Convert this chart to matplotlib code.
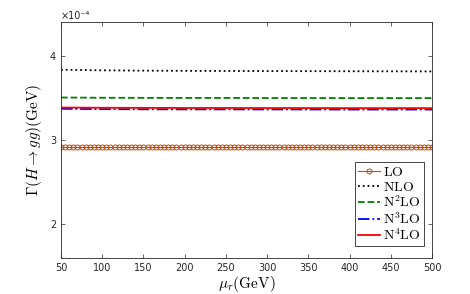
import numpy as np
import matplotlib
matplotlib.use("Agg")
import matplotlib.pyplot as plt

plt.rcParams['mathtext.fontset'] = 'cm'
plt.rcParams['font.family'] = ['DejaVu Sans']

# data (units of 1e-4 GeV)
mu_line = [50, 100, 150, 200, 250, 300, 350, 400, 450, 500]
nlo = [3.833, 3.826, 3.822, 3.820, 3.818, 3.817, 3.816, 3.815, 3.814, 3.813]
n2lo = [3.503, 3.500, 3.499, 3.498, 3.498, 3.497, 3.497, 3.496, 3.496, 3.496]
n3lo = [3.369, 3.365, 3.363, 3.362, 3.362, 3.361, 3.361, 3.360, 3.360, 3.360]
n4lo = [3.384, 3.381, 3.380, 3.379, 3.379, 3.378, 3.378, 3.377, 3.377, 3.377]
mu_lo = list(range(50, 501, 5))
lo = [2.913] * len(mu_lo)

scale = 1e-4
gray = (0.15, 0.15, 0.15)

fig = plt.figure(figsize=(4.7, 2.94), dpi=100)
ax = fig.add_axes([61/470, 1-257.7/294, (432-61)/470, (257.7-22)/294])

ax.plot(mu_lo, np.array(lo)*scale, '-o', color=(0.75, 0.3, 0.08), lw=0.8,
        markersize=3.6, markerfacecolor='none', markeredgewidth=0.7, label=r'$\mathrm{LO}$')
ax.plot(mu_line, np.array(nlo)*scale, ':', color='black', lw=1.3, label=r'$\mathrm{NLO}$')
ax.plot(mu_line, np.array(n2lo)*scale, '--', color=(0, 0.5, 0), lw=1.3, label=r'$\mathrm{N^2LO}$')
ax.plot(mu_line, np.array(n3lo)*scale, '-.', color='blue', lw=1.3, label=r'$\mathrm{N^3LO}$')
ax.plot(mu_line, np.array(n4lo)*scale, '-', color='red', lw=1.3, label=r'$\mathrm{N^4LO}$')

ax.set_xlim(50, 500)
ax.set_ylim(1.6e-4, 4.4e-4)
ax.set_xticks(range(50, 501, 50))
ax.set_yticks([2e-4, 3e-4, 4e-4])
ax.set_yticklabels(['2', '3', '4'])
ax.tick_params(direction='in', top=True, right=True, labelsize=7, colors=gray,
               length=3, width=0.5)
for s in ax.spines.values():
    s.set_color(gray)
    s.set_linewidth(0.6)
ax.text(0, 1.005, '×10⁻⁴', transform=ax.transAxes, fontsize=7,
        color=gray, ha='left', va='bottom')

ax.set_xlabel(r'$\mu_r\mathrm{(GeV)}$', fontsize=11, labelpad=1)
ax.set_ylabel(r'$\Gamma(H\rightarrow gg)\mathrm{(GeV)}$', fontsize=11, labelpad=4)

leg = ax.legend(loc='lower right', bbox_to_anchor=(0.99, 0.03), fontsize=10,
                frameon=True, fancybox=False, edgecolor=gray, framealpha=1,
                handlelength=1.6, handletextpad=0.2, borderpad=0.25, labelspacing=0.05,
                borderaxespad=0.3)
leg.get_frame().set_linewidth(0.6)

fig.savefig('out.png', dpi=100)
